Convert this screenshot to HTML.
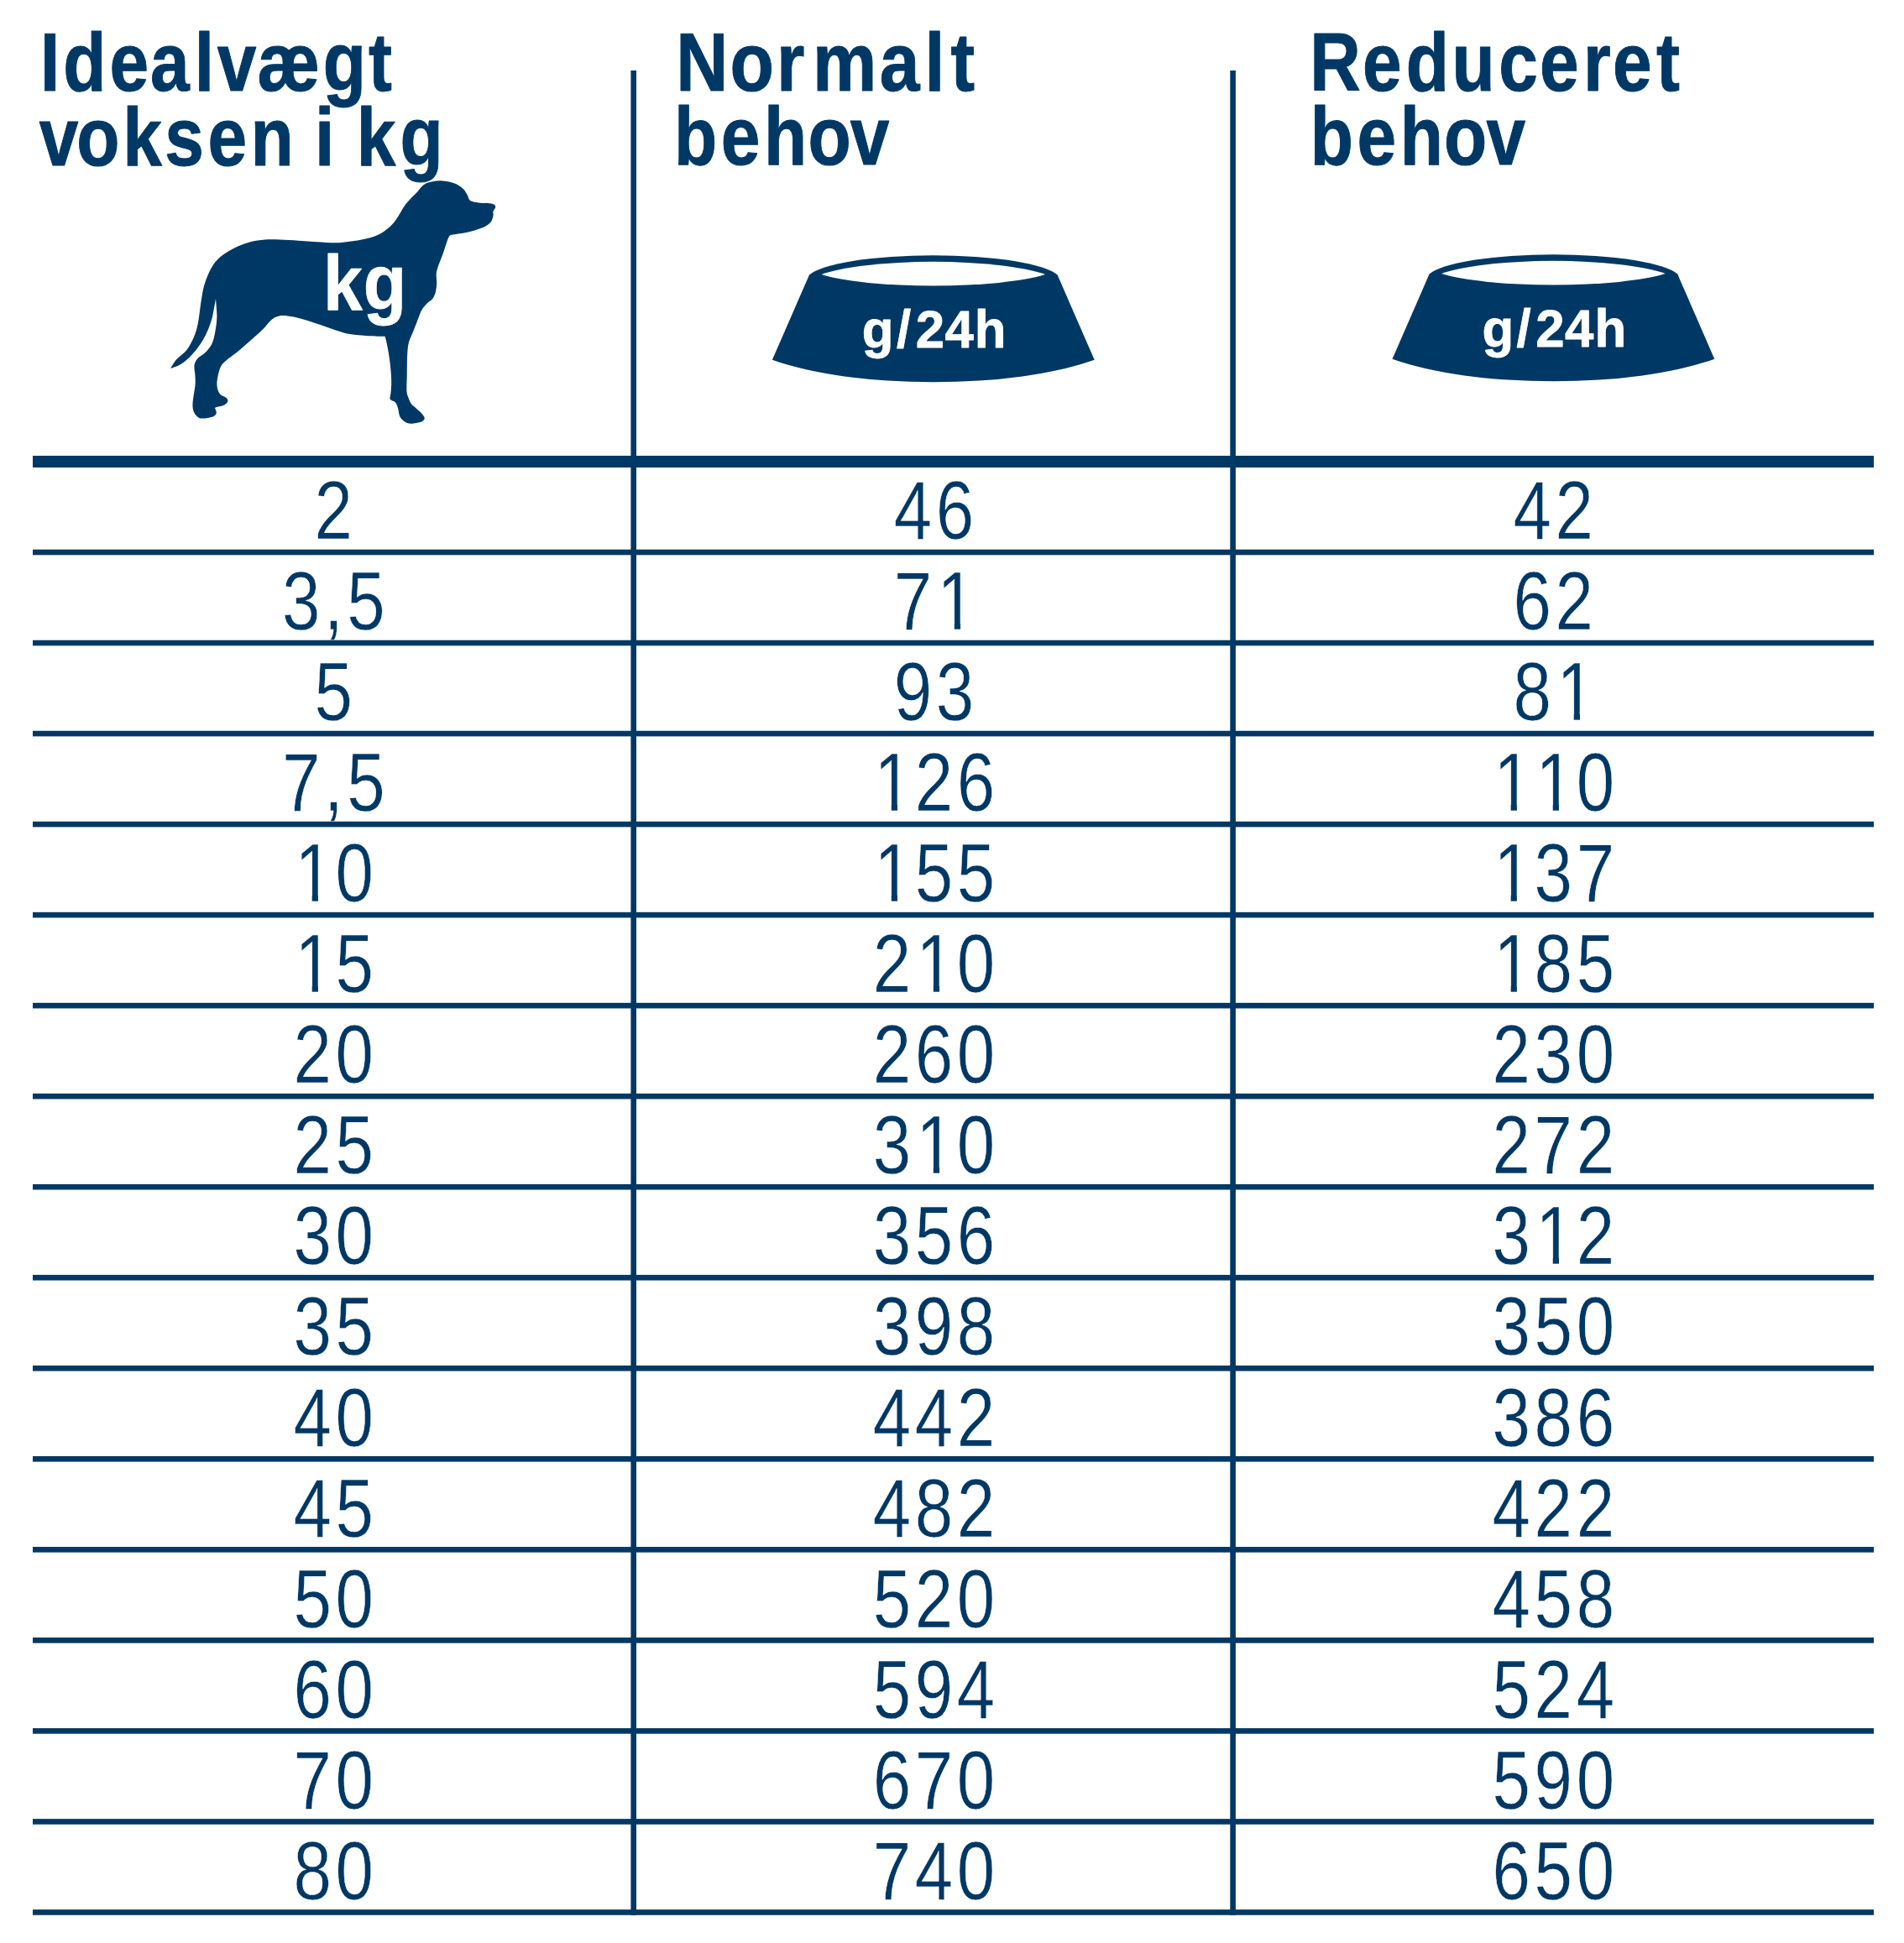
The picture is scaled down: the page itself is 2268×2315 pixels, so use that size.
<!DOCTYPE html>
<html lang="da"><head><meta charset="utf-8"><title>Fodringsvejledning</title>
<style>
html,body{margin:0;padding:0;background:#fff;}
svg{display:block;}
text{font-family:"Liberation Sans",sans-serif;white-space:pre;}
.b{font-weight:700;fill:#003865;stroke:#003865;stroke-width:1px;stroke-linejoin:round;}
.w{font-weight:700;fill:#fff;stroke:#fff;stroke-width:0.8px;stroke-linejoin:round;}
.n{font-weight:400;fill:#003865;font-kerning:none;stroke:#fff;stroke-width:0.6px;}
</style></head><body>
<svg width="2268" height="2315" viewBox="0 0 2268 2315">
<rect width="2268" height="2315" fill="#fff"/>
<path fill="#003865" d="M590.3,247.4C590.1,246.8 590.3,245.0 589.1,244.1C587.9,243.2 585.9,242.6 583.1,242.2C580.3,241.8 575.4,242.0 572.1,241.7C568.8,241.4 565.4,241.0 563.2,240.3C561.0,239.6 559.9,238.9 558.8,237.5C557.7,236.1 557.7,234.0 556.6,232.0C555.5,230.0 554.0,227.3 552.2,225.4C550.4,223.5 548.2,221.8 545.6,220.4C543.0,219.0 539.9,217.9 536.8,217.1C533.7,216.3 530.1,215.6 526.8,215.4C523.5,215.2 520.0,215.5 516.9,216.0C513.8,216.5 510.5,217.2 508.1,218.2C505.7,219.2 504.4,220.3 502.6,222.1C500.8,223.8 499.3,226.3 497.1,228.7C494.9,231.1 491.7,233.8 489.3,236.4C486.9,239.0 484.7,241.3 482.7,244.1C480.7,246.8 479.0,249.9 477.2,252.9C475.4,255.9 473.7,259.0 471.7,261.8C469.7,264.6 467.9,266.9 465.1,269.5C462.3,272.1 458.6,275.1 455.1,277.2C451.6,279.3 448.1,280.8 444.1,282.2C440.1,283.6 435.5,284.6 430.9,285.5C426.3,286.4 421.7,287.1 416.5,287.7C411.3,288.3 406.1,289.2 399.6,289.3C393.1,289.4 384.9,288.6 377.5,288.2C370.1,287.8 362.9,287.1 355.5,286.7C348.1,286.3 340.0,285.8 333.4,285.6C326.8,285.4 321.6,285.2 315.7,285.6C309.8,286.0 303.6,286.8 298.1,288.2C292.6,289.6 287.9,291.4 282.7,293.8C277.5,296.2 271.6,299.5 267.2,302.6C262.8,305.7 259.3,308.6 256.2,312.5C253.1,316.4 250.7,320.9 248.5,325.7C246.3,330.5 244.4,335.7 242.9,341.2C241.4,346.7 240.8,351.4 239.6,358.8C238.4,366.2 237.3,378.2 235.8,385.4C234.3,392.6 233.1,396.6 230.8,401.9C228.5,407.2 225.5,413.0 222.0,417.4C218.5,421.8 213.0,424.8 209.9,428.4C206.8,432.0 204.3,437.1 203.2,438.9C205.2,438.1 211.5,436.2 215.4,433.9C219.3,431.6 222.7,428.8 226.4,425.1C230.1,421.4 234.1,416.6 237.4,411.8C240.7,407.0 243.7,401.7 246.2,396.4C248.7,391.1 250.8,384.9 252.3,379.9C253.8,374.9 254.3,370.6 255.1,366.6C255.9,362.6 256.7,357.8 257.0,356.0C257.2,359.4 258.4,370.3 258.4,376.5C258.3,382.7 257.6,387.8 256.7,393.1C255.8,398.4 254.8,404.1 252.9,408.5C251.0,412.9 247.9,416.7 245.1,419.6C242.3,422.6 238.4,424.2 236.3,426.2C234.2,428.2 233.3,429.9 232.5,431.7C231.7,433.5 231.4,434.4 231.4,437.2C231.4,439.9 232.3,444.5 232.5,448.2C232.7,451.9 232.8,455.6 232.5,459.3C232.2,463.0 231.3,466.6 230.8,470.3C230.3,474.0 229.6,478.2 229.5,481.3C229.4,484.4 229.6,486.7 230.3,489.0C231.0,491.3 232.2,493.5 233.6,495.1C235.0,496.7 236.2,497.9 238.5,498.4C240.8,498.9 244.6,498.3 247.4,497.9C250.2,497.4 253.4,496.7 255.1,495.7C256.8,494.7 257.6,493.3 257.8,491.8C258.0,490.3 256.5,487.6 256.2,486.8C256.4,486.5 255.7,485.8 257.3,485.2C259.0,484.6 263.9,483.9 266.1,483.0C268.3,482.1 269.6,480.7 270.5,479.7C271.4,478.7 271.7,477.9 271.4,476.9C271.1,475.9 270.3,474.7 268.9,473.6C267.5,472.5 264.4,471.8 262.8,470.3C261.2,468.8 260.2,467.0 259.5,464.8C258.8,462.6 258.4,459.9 258.4,457.1C258.4,454.3 258.8,451.5 259.5,448.2C260.2,444.9 261.2,440.3 262.8,437.2C264.4,434.1 265.9,432.6 269.4,429.5C272.9,426.4 278.5,422.7 283.7,418.5C288.9,414.3 295.3,408.5 300.3,404.1C305.3,399.7 309.8,395.7 313.5,392.0C317.2,388.3 319.7,384.5 322.3,382.1C324.9,379.7 326.6,378.6 329.0,377.6C331.4,376.6 333.2,376.0 336.7,376.0C340.2,376.0 344.9,376.6 349.9,377.6C354.9,378.6 361.0,380.4 366.5,382.1C372.0,383.8 377.4,385.7 383.0,387.6C388.6,389.5 394.4,391.6 400.0,393.4C405.6,395.1 410.1,397.0 416.5,398.1C422.9,399.2 431.6,399.9 438.6,400.3C445.6,400.8 455.2,400.7 458.5,400.8C458.8,401.7 459.4,403.0 460.1,406.3C460.8,409.6 462.1,415.6 462.9,420.7C463.7,425.8 464.6,431.7 465.1,437.2C465.7,442.7 466.1,448.7 466.2,453.7C466.3,458.7 465.9,463.5 465.6,467.0C465.3,470.5 464.5,473.4 464.3,474.7C464.6,475.1 465.1,476.2 466.2,476.9C467.2,477.6 469.3,477.6 470.6,479.1C471.9,480.6 473.0,482.9 473.9,485.7C474.8,488.5 475.0,493.1 476.1,495.7C477.2,498.3 478.7,499.7 480.5,501.2C482.3,502.7 484.5,504.1 487.1,504.5C489.7,504.9 493.3,504.3 495.9,503.9C498.5,503.5 501.0,503.3 502.6,502.3C504.2,501.3 505.9,499.6 505.7,497.9C505.5,496.1 503.3,493.8 501.5,491.8C499.7,489.8 496.8,487.4 494.9,485.7C493.0,483.9 491.4,483.5 489.9,481.3C488.4,479.1 486.9,475.2 486.0,472.5C485.1,469.8 484.6,468.9 484.4,464.8C484.2,460.8 484.6,453.7 484.7,448.2C484.8,442.7 484.8,436.8 484.9,431.7C485.0,426.6 485.1,421.4 485.5,417.4C485.9,413.3 486.1,410.9 487.1,407.4C488.1,403.9 490.0,400.1 491.5,396.4C493.0,392.7 494.6,388.7 495.9,385.4C497.2,382.1 498.3,379.1 499.3,376.5C500.3,373.9 500.9,371.9 502.0,369.9C503.1,367.9 504.5,366.0 505.9,364.4C507.3,362.8 508.8,361.3 510.3,360.0C511.8,358.7 513.3,358.5 514.7,356.6C516.1,354.8 517.7,352.0 518.6,348.9C519.5,345.8 520.0,341.6 520.2,337.9C520.4,334.2 519.5,329.9 519.7,326.8C519.9,323.7 520.5,321.9 521.3,319.1C522.1,316.4 523.5,313.2 524.6,310.3C525.7,307.4 526.8,304.6 527.9,301.5C529.0,298.4 530.2,294.4 531.2,291.5C532.2,288.6 533.1,285.7 534.0,283.8C534.9,281.9 535.2,280.8 536.8,280.0C538.4,279.2 540.5,279.4 543.4,278.9C546.3,278.4 550.7,277.9 554.4,277.2C558.1,276.4 561.7,275.5 565.4,274.4C569.1,273.3 573.4,272.2 576.5,270.6C579.6,269.1 582.4,267.3 584.2,265.1C586.0,262.9 587.0,259.6 587.5,257.4C588.0,255.2 587.0,253.5 587.5,251.8C588.0,250.1 589.8,248.1 590.3,247.4Z"/>
<g transform="translate(0.0,0.0)">
<path fill="#003865" d="M964,327.6 A151.5,29.8 0 0 1 1259.6,327.6 L1303.7,428.8 A250,74 0 0 1 919.9,428.8 Z"/>
<path fill="#fff" d="M978.5,327 A150,28 0 0 1 1245.1,327 A150,25 0 0 1 978.5,327 Z"/>
</g>
<g transform="translate(738.6,-1.0)">
<path fill="#003865" d="M964,327.6 A151.5,29.8 0 0 1 1259.6,327.6 L1303.7,428.8 A250,74 0 0 1 919.9,428.8 Z"/>
<path fill="#fff" d="M978.5,327 A150,28 0 0 1 1245.1,327 A150,25 0 0 1 978.5,327 Z"/>
</g>
<text class="b" transform="translate(0,107.80) scale(0.8600,1)" font-size="97.50" x="55.82 87.54 151.78 208.07 269.35 300.93 356.35 447.30 510.34">Idealvægt</text>
<text class="b" transform="translate(0,196.60) scale(0.8600,1)" font-size="97.50" x="54.25 106.09 170.13 228.12 287.88 347.07 406.62 436.10 463.18 493.85 553.93">voksen i kg</text>
<text class="b" transform="translate(0,107.50) scale(0.8800,1)" font-size="97.50" x="915.10 987.95 1051.17 1100.10 1190.58 1251.83 1287.00">Normalt</text>
<text class="b" transform="translate(0,196.30) scale(0.8600,1)" font-size="97.50" x="933.66 998.70 1058.27 1119.06 1177.56">behov</text>
<text class="b" transform="translate(0,107.50) scale(0.8600,1)" font-size="97.50" x="1814.39 1887.07 1947.48 2010.94 2075.96 2132.59 2193.03 2233.75 2294.23">Reduceret</text>
<text class="b" transform="translate(0,196.30) scale(0.8600,1)" font-size="97.50" x="1814.71 1879.74 1939.32 2000.11 2058.61">behov</text>
<text class="w" transform="translate(0,369.30) scale(0.9000,1)" font-size="93.50" x="427.69 480.82">kg</text>
<text class="w" transform="translate(0,414.10) scale(0.9800,1)" font-size="63.00" x="1047.80 1089.67 1112.96 1148.40 1184.49">g/24h</text>
<text class="w" transform="translate(0,413.20) scale(0.9800,1)" font-size="63.00" x="1801.47 1843.34 1866.63 1902.07 1938.17">g/24h</text>
<text class="n" transform="translate(0,642.20) scale(0.8250,1)" font-size="99" x="454.05">2</text>
<text class="n" transform="translate(0,642.20) scale(0.8250,1)" font-size="99" x="1290.50 1351.16">46</text>
<text class="n" transform="translate(0,642.20) scale(0.8250,1)" font-size="99" x="2184.93 2245.59">42</text>
<text class="n" transform="translate(0,750.23) scale(0.8250,1)" font-size="99" x="407.16 467.82 500.93">3,5</text>
<clipPath id="c1"><path d="M1056.4,660.2h112.1v81.0h-112.1zM1062.4,740.2h50.0v35.0h-50.0zM1136.85,740.2h7.22v12.0h-7.22z"/></clipPath>
<g clip-path="url(#c1)"><text class="n" transform="translate(0,750.23) scale(0.8250,1)" font-size="99" x="1290.50 1353.10">71</text></g>
<text class="n" transform="translate(0,750.23) scale(0.8250,1)" font-size="99" x="2184.93 2245.59">62</text>
<text class="n" transform="translate(0,858.26) scale(0.8250,1)" font-size="99" x="454.05">5</text>
<text class="n" transform="translate(0,858.26) scale(0.8250,1)" font-size="99" x="1290.50 1351.16">93</text>
<clipPath id="c2"><path d="M1794.3,768.3h112.1v81.0h-112.1zM1800.3,848.3h50.0v35.0h-50.0zM1874.75,848.3h7.22v12.0h-7.22z"/></clipPath>
<g clip-path="url(#c2)"><text class="n" transform="translate(0,858.26) scale(0.8250,1)" font-size="99" x="2184.93 2247.53">81</text></g>
<text class="n" transform="translate(0,966.29) scale(0.8250,1)" font-size="99" x="407.16 467.82 500.93">7,5</text>
<clipPath id="c3"><path d="M1031.3,876.3h162.1v81.0h-162.1zM1061.78,956.3h7.22v12.0h-7.22zM1087.4,956.3h50.0v35.0h-50.0zM1137.4,956.3h50.0v35.0h-50.0z"/></clipPath>
<g clip-path="url(#c3)"><text class="n" transform="translate(0,966.29) scale(0.8250,1)" font-size="99" x="1262.11 1320.83 1381.49">126</text></g>
<clipPath id="c4"><path d="M1769.2,876.3h162.1v81.0h-162.1zM1799.68,956.3h7.22v12.0h-7.22zM1849.73,956.3h7.22v12.0h-7.22zM1875.3,956.3h50.0v35.0h-50.0z"/></clipPath>
<g clip-path="url(#c4)"><text class="n" transform="translate(0,966.29) scale(0.8250,1)" font-size="99" x="2156.54 2217.20 2275.92">110</text></g>
<clipPath id="c5"><path d="M341.3,984.3h112.1v81.0h-112.1zM371.70,1064.3h7.22v12.0h-7.22zM397.3,1064.3h50.0v35.0h-50.0z"/></clipPath>
<g clip-path="url(#c5)"><text class="n" transform="translate(0,1074.32) scale(0.8250,1)" font-size="99" x="425.66 484.38">10</text></g>
<clipPath id="c6"><path d="M1031.3,984.3h162.1v81.0h-162.1zM1061.78,1064.3h7.22v12.0h-7.22zM1087.4,1064.3h50.0v35.0h-50.0zM1137.4,1064.3h50.0v35.0h-50.0z"/></clipPath>
<g clip-path="url(#c6)"><text class="n" transform="translate(0,1074.32) scale(0.8250,1)" font-size="99" x="1262.11 1320.83 1381.49">155</text></g>
<clipPath id="c7"><path d="M1769.2,984.3h162.1v81.0h-162.1zM1799.68,1064.3h7.22v12.0h-7.22zM1825.3,1064.3h50.0v35.0h-50.0zM1875.3,1064.3h50.0v35.0h-50.0z"/></clipPath>
<g clip-path="url(#c7)"><text class="n" transform="translate(0,1074.32) scale(0.8250,1)" font-size="99" x="2156.54 2215.26 2275.92">137</text></g>
<clipPath id="c8"><path d="M341.3,1092.3h112.1v81.0h-112.1zM371.70,1172.4h7.22v12.0h-7.22zM397.3,1172.4h50.0v35.0h-50.0z"/></clipPath>
<g clip-path="url(#c8)"><text class="n" transform="translate(0,1182.35) scale(0.8250,1)" font-size="99" x="425.66 484.38">15</text></g>
<clipPath id="c9"><path d="M1031.3,1092.3h162.1v81.0h-162.1zM1037.3,1172.4h50.0v35.0h-50.0zM1111.83,1172.4h7.22v12.0h-7.22zM1137.4,1172.4h50.0v35.0h-50.0z"/></clipPath>
<g clip-path="url(#c9)"><text class="n" transform="translate(0,1182.35) scale(0.8250,1)" font-size="99" x="1260.18 1322.77 1381.49">210</text></g>
<clipPath id="c10"><path d="M1769.2,1092.3h162.1v81.0h-162.1zM1799.68,1172.4h7.22v12.0h-7.22zM1825.3,1172.4h50.0v35.0h-50.0zM1875.3,1172.4h50.0v35.0h-50.0z"/></clipPath>
<g clip-path="url(#c10)"><text class="n" transform="translate(0,1182.35) scale(0.8250,1)" font-size="99" x="2156.54 2215.26 2275.92">185</text></g>
<text class="n" transform="translate(0,1290.38) scale(0.8250,1)" font-size="99" x="423.72 484.38">20</text>
<text class="n" transform="translate(0,1290.38) scale(0.8250,1)" font-size="99" x="1260.18 1320.83 1381.49">260</text>
<text class="n" transform="translate(0,1290.38) scale(0.8250,1)" font-size="99" x="2154.60 2215.26 2275.92">230</text>
<text class="n" transform="translate(0,1398.41) scale(0.8250,1)" font-size="99" x="423.72 484.38">25</text>
<clipPath id="c11"><path d="M1031.3,1308.4h162.1v81.0h-162.1zM1037.3,1388.4h50.0v35.0h-50.0zM1111.83,1388.4h7.22v12.0h-7.22zM1137.4,1388.4h50.0v35.0h-50.0z"/></clipPath>
<g clip-path="url(#c11)"><text class="n" transform="translate(0,1398.41) scale(0.8250,1)" font-size="99" x="1260.18 1322.77 1381.49">310</text></g>
<text class="n" transform="translate(0,1398.41) scale(0.8250,1)" font-size="99" x="2154.60 2215.26 2275.92">272</text>
<text class="n" transform="translate(0,1506.44) scale(0.8250,1)" font-size="99" x="423.72 484.38">30</text>
<text class="n" transform="translate(0,1506.44) scale(0.8250,1)" font-size="99" x="1260.18 1320.83 1381.49">356</text>
<clipPath id="c12"><path d="M1769.2,1416.4h162.1v81.0h-162.1zM1775.2,1496.4h50.0v35.0h-50.0zM1849.73,1496.4h7.22v12.0h-7.22zM1875.3,1496.4h50.0v35.0h-50.0z"/></clipPath>
<g clip-path="url(#c12)"><text class="n" transform="translate(0,1506.44) scale(0.8250,1)" font-size="99" x="2154.60 2217.20 2275.92">312</text></g>
<text class="n" transform="translate(0,1614.47) scale(0.8250,1)" font-size="99" x="423.72 484.38">35</text>
<text class="n" transform="translate(0,1614.47) scale(0.8250,1)" font-size="99" x="1260.18 1320.83 1381.49">398</text>
<text class="n" transform="translate(0,1614.47) scale(0.8250,1)" font-size="99" x="2154.60 2215.26 2275.92">350</text>
<text class="n" transform="translate(0,1722.50) scale(0.8250,1)" font-size="99" x="423.72 484.38">40</text>
<text class="n" transform="translate(0,1722.50) scale(0.8250,1)" font-size="99" x="1260.18 1320.83 1381.49">442</text>
<text class="n" transform="translate(0,1722.50) scale(0.8250,1)" font-size="99" x="2154.60 2215.26 2275.92">386</text>
<text class="n" transform="translate(0,1830.53) scale(0.8250,1)" font-size="99" x="423.72 484.38">45</text>
<text class="n" transform="translate(0,1830.53) scale(0.8250,1)" font-size="99" x="1260.18 1320.83 1381.49">482</text>
<text class="n" transform="translate(0,1830.53) scale(0.8250,1)" font-size="99" x="2154.60 2215.26 2275.92">422</text>
<text class="n" transform="translate(0,1938.56) scale(0.8250,1)" font-size="99" x="423.72 484.38">50</text>
<text class="n" transform="translate(0,1938.56) scale(0.8250,1)" font-size="99" x="1260.18 1320.83 1381.49">520</text>
<text class="n" transform="translate(0,1938.56) scale(0.8250,1)" font-size="99" x="2154.60 2215.26 2275.92">458</text>
<text class="n" transform="translate(0,2046.59) scale(0.8250,1)" font-size="99" x="423.72 484.38">60</text>
<text class="n" transform="translate(0,2046.59) scale(0.8250,1)" font-size="99" x="1260.18 1320.83 1381.49">594</text>
<text class="n" transform="translate(0,2046.59) scale(0.8250,1)" font-size="99" x="2154.60 2215.26 2275.92">524</text>
<text class="n" transform="translate(0,2154.62) scale(0.8250,1)" font-size="99" x="423.72 484.38">70</text>
<text class="n" transform="translate(0,2154.62) scale(0.8250,1)" font-size="99" x="1260.18 1320.83 1381.49">670</text>
<text class="n" transform="translate(0,2154.62) scale(0.8250,1)" font-size="99" x="2154.60 2215.26 2275.92">590</text>
<text class="n" transform="translate(0,2262.65) scale(0.8250,1)" font-size="99" x="423.72 484.38">80</text>
<text class="n" transform="translate(0,2262.65) scale(0.8250,1)" font-size="99" x="1260.18 1320.83 1381.49">740</text>
<text class="n" transform="translate(0,2262.65) scale(0.8250,1)" font-size="99" x="2154.60 2215.26 2275.92">650</text>
<g fill="#003865">
<rect x="751.4" y="84" width="6.6" height="2197.9"/>
<rect x="1465.3" y="84" width="6.6" height="2197.9"/>
<rect x="39" y="543" width="2193" height="14"/>
<rect x="39" y="654.70" width="2193" height="6.6"/>
<rect x="39" y="762.73" width="2193" height="6.6"/>
<rect x="39" y="870.76" width="2193" height="6.6"/>
<rect x="39" y="978.79" width="2193" height="6.6"/>
<rect x="39" y="1086.82" width="2193" height="6.6"/>
<rect x="39" y="1194.85" width="2193" height="6.6"/>
<rect x="39" y="1302.88" width="2193" height="6.6"/>
<rect x="39" y="1410.91" width="2193" height="6.6"/>
<rect x="39" y="1518.94" width="2193" height="6.6"/>
<rect x="39" y="1626.97" width="2193" height="6.6"/>
<rect x="39" y="1735.00" width="2193" height="6.6"/>
<rect x="39" y="1843.03" width="2193" height="6.6"/>
<rect x="39" y="1951.06" width="2193" height="6.6"/>
<rect x="39" y="2059.09" width="2193" height="6.6"/>
<rect x="39" y="2167.12" width="2193" height="6.6"/>
<rect x="39" y="2275.15" width="2193" height="6.6"/>
</g>
</svg>
</body></html>
